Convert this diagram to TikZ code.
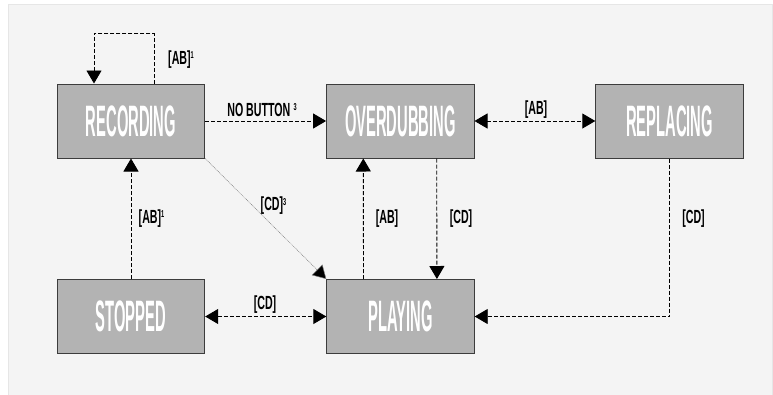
\documentclass[tikz,border=0pt]{standalone}
\usepackage{fontspec}
\usetikzlibrary{arrows.meta}
\setmainfont{Liberation Sans}
\newfontfamily\boxfont[FakeStretch=0.335]{Liberation Sans}
\newfontfamily\labfont[FakeStretch=0.56]{Liberation Sans}
\definecolor{panel}{HTML}{F4F4F4}
\definecolor{panelline}{HTML}{E6E6E6}
\definecolor{boxfill}{HTML}{B3B3B3}
\definecolor{boxline}{HTML}{3C3C3C}
\definecolor{diag}{HTML}{808080}
\newcommand{\supmark}[1]{\raisebox{5.5pt}{\fontsize{10}{10}\selectfont #1}}
\tikzset{
  state/.style={draw=boxline, fill=boxfill, line width=1pt, minimum width=147.4pt,
    minimum height=74pt, inner sep=0pt, text=white,
    font=\boxfont\bfseries\fontsize{44}{44}\selectfont},
  lab/.style={inner sep=0pt, text=black, font=\labfont\bfseries\fontsize{19}{19}\selectfont},
  conn/.style={line width=0.9pt, dash pattern=on 4pt off 2pt, -{Triangle[length=13pt,width=15pt]}},
  conn2/.style={line width=0.9pt, dash pattern=on 4pt off 2pt, {Triangle[length=13pt,width=15pt]}-{Triangle[length=13pt,width=15pt]}},
  diagconn/.style={line width=0.5pt, draw=diag, dash pattern=on 1pt off 0.8pt, -{Triangle[length=13pt,width=15pt,fill=black]}}
}
\begin{document}
\begin{tikzpicture}[x=1pt,y=-1pt]
\useasboundingbox (0,0) rectangle (773,394);
\fill[white] (0,0) rectangle (773,394);
\filldraw[fill=panel, draw=panelline, line width=1pt] (8.5,4.5) rectangle (772.5,400);

\node[state] (rec) at (131,121) {RECORDING};
\node[state] (ovd) at (400.3,121) {OVERDUBBING};
\node[state] (rep) at (669.5,121) {REPLACING};
\node[state] (stp) at (131,316.5) {STOPPED};
\node[state] (ply) at (400.5,316.5) {PLAYING};

% connectors
\draw[conn] ([xshift=23.3pt]rec.north) -- ++(0,-50) -| ([xshift=-37pt]rec.north);
\draw[conn] (rec.east) -- (ovd.west);
\draw[conn2] (ovd.east) -- (rep.west);
\draw[diagconn] (rec.south east) -- (ply.north west);
\draw[conn] (stp.north) -- (rec.south);
\draw[conn] ([xshift=-37pt]ply.north) -- ([xshift=-37pt]ovd.south);
\draw[conn] ([xshift=36.4pt]ovd.south) -- ([xshift=36.4pt]ply.north);
\draw[conn] (rep.south) |- (ply.east);
\draw[conn2] (stp.east) -- (ply.west);

% labels
\node[lab] (l1) at (181,59.5) {[AB]\supmark{1}};
\node[lab] (l2) at (262,109.5) {NO BUTTON\,\supmark{3}};
\node[lab] (l3) at (536,109.5) {[AB]};
\node[lab] (l4) at (273.5,206) {[CD]\supmark{3}};
\node[lab] (l5) at (151.5,218.5) {[AB]\supmark{1}};
\node[lab] (l6) at (387,218.5) {[AB]};
\node[lab] (l7) at (461,218.5) {[CD]};
\node[lab] (l8) at (693.5,218.5) {[CD]};
\node[lab] (l9) at (265,305) {[CD]};
\end{tikzpicture}
\end{document}
